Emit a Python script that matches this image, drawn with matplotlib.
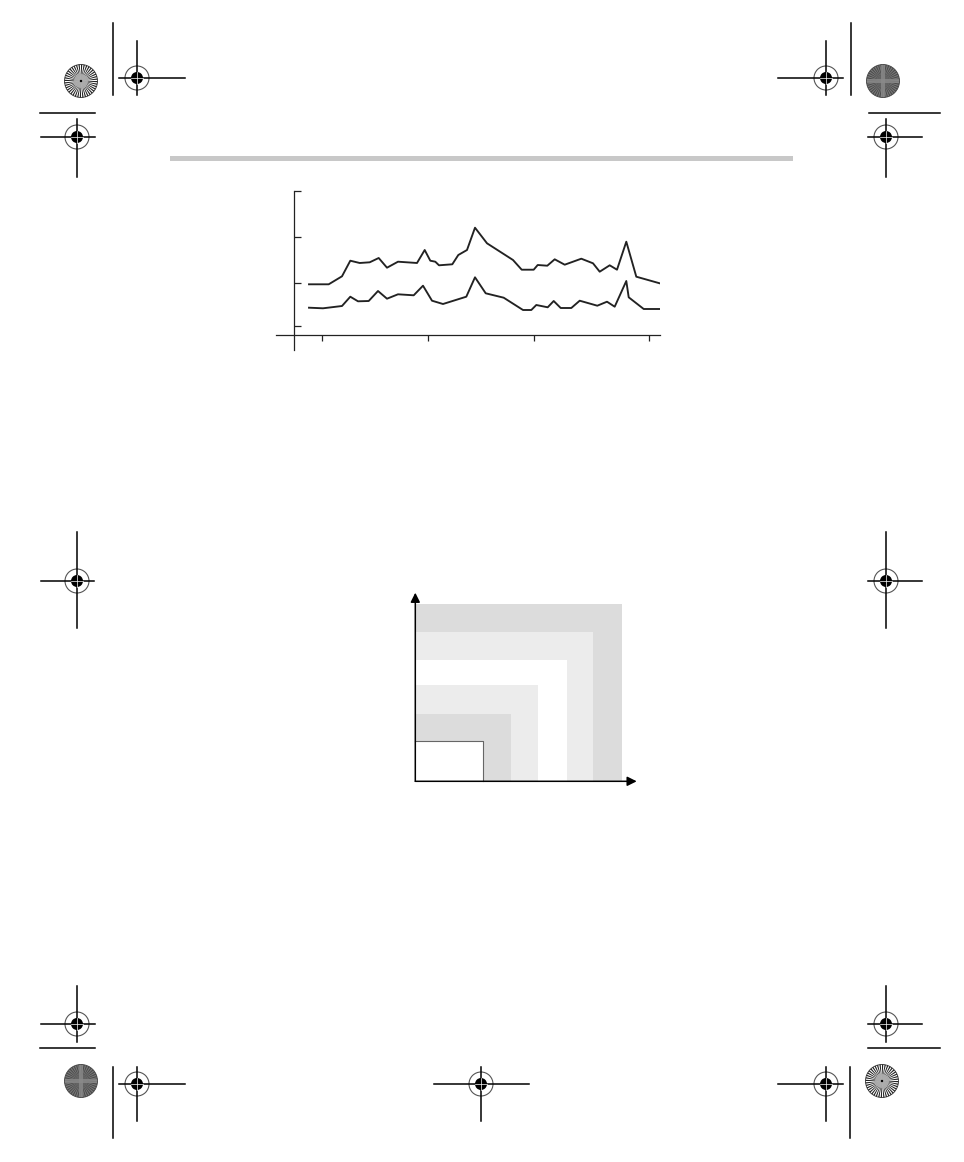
import numpy as np
import matplotlib
matplotlib.use('Agg')
import matplotlib.pyplot as plt
from matplotlib.patches import Rectangle, Circle, Wedge

# line chart data
upper_x = [15.0, 34.7, 48.0, 56.3, 65.7, 75.7, 84.7, 93.0, 104.0, 123.0, 130.7, 136.3,
           141.3, 145.0, 158.3, 164.3, 173.0, 181.0, 193.0, 219.0, 227.7, 239.7, 243.7,
           253.3, 260.7, 270.7, 287.3, 299.0, 305.7, 315.7, 323.0, 332.3, 342.3, 365.7]
upper_y = [50.7, 50.7, 58.7, 74.3, 72.0, 72.7, 77.0, 67.3, 73.3, 72.0, 85.0, 74.3,
           73.3, 69.7, 70.7, 80.0, 85.0, 107.3, 91.7, 75.0, 65.3, 65.3, 70.0,
           69.3, 75.7, 70.3, 76.3, 71.7, 63.3, 69.7, 65.3, 93.3, 58.3, 51.7]
lower_x = [15.0, 29.0, 48.0, 56.3, 64.0, 74.7, 84.0, 93.0, 104.0, 119.7, 129.0, 138.0,
           149.0, 172.3, 181.0, 191.7, 209.7, 229.0, 237.3, 242.3, 253.7, 259.7, 266.7,
           277.3, 285.7, 303.3, 313.0, 320.7, 332.3, 334.7, 349.7, 365.7]
lower_y = [27.3, 26.7, 29.0, 38.3, 33.7, 34.0, 44.0, 36.3, 40.7, 39.7, 49.3, 34.3,
           31.0, 38.3, 57.7, 41.7, 37.3, 25.0, 25.0, 30.0, 27.7, 34.0, 27.0,
           27.0, 34.3, 29.3, 33.3, 28.3, 54.0, 37.7, 26.0, 26.0]
yticks = [9.0, 51.7, 98.3, 144.3]
xticks = [28.0, 134.0, 239.7, 355.0]

# nested regions diagram
box_w = [207.0, 177.4, 151.4, 123.0, 95.4, 67.7]
box_h = [177.3, 149.6, 121.3, 96.3, 67.6, 40.0]
box_c = ['#dcdcdc', '#ececec', 'white', '#ececec', '#dcdcdc', 'white']

# printer marks: (x, y, left, right, up, down)
targets = [(137, 78, 18, 48, 37, 17), (77, 137, 36, 18, 18, 40),
           (826, 78, 48, 17, 37, 17), (886, 137, 18, 36, 18, 40),
           (77, 581, 36, 17, 49, 47), (886, 581, 18, 36, 49, 47),
           (77, 1024, 36, 18, 38, 18), (886, 1024, 18, 36, 38, 18),
           (137, 1084, 18, 48, 17, 37), (481, 1084, 47, 48, 17, 37),
           (826, 1084, 48, 17, 17, 37)]
stars = [(81, 81, 1), (883, 81, 2), (81, 1081, 2), (882, 1081, 1)]
hlines = [(40, 95, 113), (869, 940, 113), (40, 95, 1048), (868, 940, 1048)]
vlines = [(113, 23, 95), (851, 23, 95), (113, 1067, 1138), (850, 1067, 1138)]

fig = plt.figure(figsize=(9.64, 11.62), dpi=100)
bg = fig.add_axes([0, 0, 1, 1])
bg.set_xlim(0, 964)
bg.set_ylim(1162, 0)
bg.axis('off')

# header bar
bg.add_patch(Rectangle((170, 156), 623, 5, color='#c8c8c8', lw=0))

for x0, x1, y in hlines:
    bg.plot([x0, x1], [y, y], color='black', lw=1.1)
for x, y0, y1 in vlines:
    bg.plot([x, x], [y0, y1], color='black', lw=1.1)

for x, y, l, r, u, d in targets:
    bg.plot([x - l, x + r], [y, y], color='black', lw=1.1)
    bg.plot([x, x], [y - u, y + d], color='black', lw=1.1)
    bg.add_patch(Circle((x, y), 12, fill=False, ec='#555555', lw=0.8))
    bg.add_patch(Circle((x, y), 6, color='black', lw=0))
    bg.plot([x - 6, x + 6], [y, y], color='white', lw=0.5)
    bg.plot([x, x], [y - 6, y + 6], color='white', lw=0.5)

for x, y, kind in stars:
    if kind == 1:
        bg.add_patch(Circle((x, y), 16.5, fc='white', ec='#333333', lw=0.6))
        for a in np.arange(0, 360, 9):
            bg.add_patch(Wedge((x, y), 16.5, a, a + 4.5, color='#222222', lw=0))
        bg.add_patch(Circle((x, y), 7, color='#b0b0b0', lw=0, alpha=0.8))
        bg.add_patch(Circle((x, y), 1.2, color='black', lw=0))
    else:
        bg.add_patch(Circle((x, y), 16.5, fc='#7a7a7a', ec='#444444', lw=0.6))
        for a in np.arange(0, 360, 9):
            bg.add_patch(Wedge((x, y), 16.5, a, a + 4.5, color='#4a4a4a', lw=0))
        bg.add_patch(Rectangle((x - 16, y - 2), 32, 4, color='#8a8a8a', lw=0, alpha=0.8))
        bg.add_patch(Rectangle((x - 2, y - 16), 4, 32, color='#8a8a8a', lw=0, alpha=0.8))

# line chart
ax = fig.add_axes([276 / 964, (1162 - 350) / 1162, 384 / 964, 159.3 / 1162])
ax.patch.set_alpha(0)
ax.plot(upper_x, upper_y, color='#222222', lw=1.35)
ax.plot(lower_x, lower_y, color='#222222', lw=1.35)
ax.set_xlim(-18, 366)
ax.set_ylim(-15, 144.3)
ax.spines['top'].set_visible(False)
ax.spines['right'].set_visible(False)
ax.spines['left'].set_position(('data', 0))
ax.spines['bottom'].set_position(('data', 0))
ax.spines['left'].set_bounds(-15, 144.3)
ax.spines['bottom'].set_bounds(-18, 366)
for s in ['left', 'bottom']:
    ax.spines[s].set_linewidth(0.9)
    ax.spines[s].set_color('#222222')
ax.set_yticks(yticks)
ax.set_xticks(xticks)
ax.set_yticklabels([])
ax.set_xticklabels([])
ax.tick_params(axis='y', direction='in', length=5, width=0.9, color='#222222')
ax.tick_params(axis='x', direction='out', length=4.5, width=0.9, color='#222222')

# nested regions diagram
ax2 = fig.add_axes([400 / 964, (1162 - 795) / 1162, 250 / 964, 210 / 1162])
ax2.set_xlim(-15.3, 234.7)
ax2.set_ylim(-13.7, 196.3)
ax2.axis('off')
for w, h, c in zip(box_w, box_h, box_c):
    ax2.add_patch(Rectangle((0, 0), w, h, color=c, lw=0))
ax2.plot([0, box_w[-1], box_w[-1]], [box_h[-1], box_h[-1], 0], color='#666666', lw=0.8)
ax2.annotate('', xy=(0, 188.6), xytext=(0, 0),
             arrowprops=dict(arrowstyle='-|>', lw=1.1, color='black',
                             mutation_scale=14, shrinkA=0, shrinkB=0))
ax2.annotate('', xy=(221.4, 0), xytext=(0, 0),
             arrowprops=dict(arrowstyle='-|>', lw=1.1, color='black',
                             mutation_scale=14, shrinkA=0, shrinkB=0))

plt.savefig('out.png', dpi=100)
